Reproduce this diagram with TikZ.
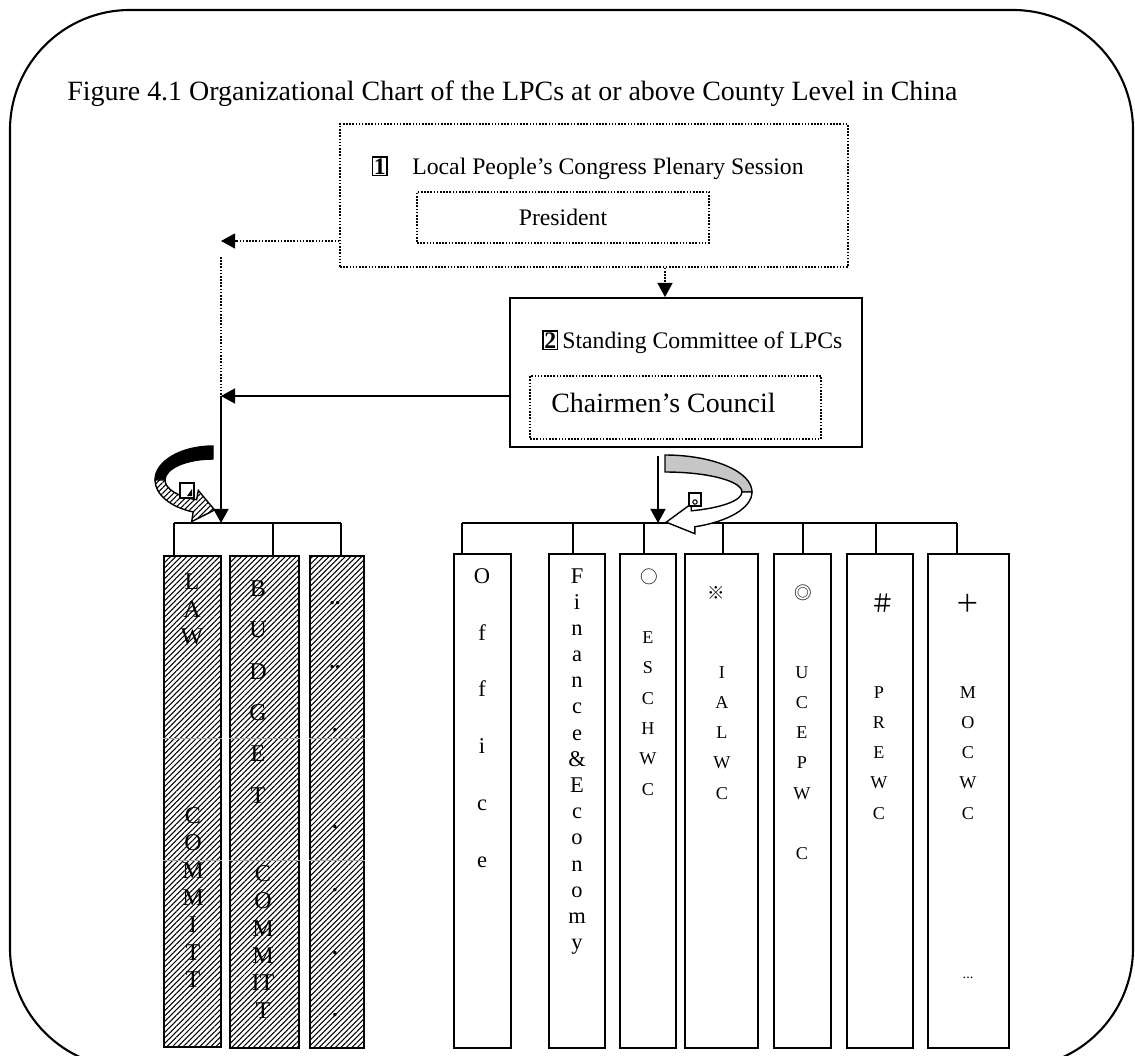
\documentclass[tikz,border=0pt]{standalone}
\usepackage{fontspec}
\setmainfont{Liberation Serif}
\newfontfamily\cjk{Noto Sans CJK SC}
\usetikzlibrary{arrows.meta,patterns.meta,calc}

\tikzset{
  dotbox/.style={draw, line width=0.9pt, dash pattern=on 0.9pt off 0.9pt},
  solidbox/.style={draw, line width=1.1pt},
  numbox/.style={draw, line width=1pt, inner sep=0.8pt, font=\bfseries\fontsize{13.5}{15}\selectfont},
  colbox/.style={draw, line width=1.1pt, anchor=north, inner sep=0pt},
  hatch/.style={pattern={Lines[angle=45,distance=2.2pt,line width=0.6pt]}},
  hatchcol/.style={colbox, hatch},
  link/.style={line width=1.1pt, -{Triangle[length=8pt,width=8.5pt]}},
  dotlink/.style={line width=0.9pt, dash pattern=on 0.9pt off 0.9pt, -{Triangle[length=8pt,width=8.5pt]}},
  letters/.style={anchor=north, align=center, inner sep=0pt},
  symb/.style={font=\cjk\fontsize{10}{12}\selectfont, inner sep=0pt},
}

\begin{document}
\begin{tikzpicture}[x=0.02cm,y=-0.02cm]
\useasboundingbox (0,0) rectangle (1135,1055);

% Outer frame
\draw[line width=1.2pt, rounded corners=2.4cm] (10,10) rectangle (1133,1068);

% Title
\node[anchor=base west, inner sep=0pt, font=\fontsize{15.9}{18}\selectfont] (title) at (67,100)
  {Figure 4.1 Organizational Chart of the LPCs at or above County Level in China};

% Plenary session
\node[dotbox, minimum width=10.16cm, minimum height=2.86cm] (plenary) at (594,195.5) {};
\node[anchor=base west, inner sep=0pt, font=\fontsize{13.5}{15}\selectfont] (plentext) at (412,174)
  {Local People’s Congress Plenary Session};
\node[numbox, anchor=base east] (one) at (388,174) {1};
\node[dotbox, minimum width=5.84cm, minimum height=1.02cm, font=\fontsize{13.5}{15}\selectfont] (president) at (563,217.5) {President};

% Standing committee
\node[solidbox, minimum width=7.04cm, minimum height=2.98cm] (standing) at (686,372.5) {};
\node[numbox, anchor=base west] (two) at (542,348) {2};
\node[anchor=base west, inner sep=0pt, font=\fontsize{13.5}{15}\selectfont] (stantext) at (562,348)
  {Standing Committee of LPCs};
\node[dotbox, minimum width=5.82cm, minimum height=1.26cm] (council) at (675.5,407.5) {};
\node[anchor=base west, inner sep=0pt, font=\fontsize{15.9}{18}\selectfont] (counciltext) at (551,412)
  {Chairmen’s Council};

% Links from the top
\coordinate (down) at (665,0);
\coordinate (lv) at (221,241);
\coordinate (junction) at (221,396);
\coordinate (lbar) at (221,523);
\coordinate (rbar) at (658,523);
\draw[dotlink] (plenary.south -| down) -- (standing.north -| down);
\draw[dotlink] (plenary.west |- lv) -- (lv);
\draw[line width=0.9pt, dash pattern=on 0.9pt off 0.9pt] ($(lv)+(0,16)$) -- (junction);
\draw[link] (standing.west |- junction) -- (junction);
\draw[link] (junction) -- (lbar);
\draw[link] ($(standing.south -| rbar)+(0,8)$) -- (rbar);

% Special committees (hatched)
\foreach \nm/\cx/\w in {law/192.5/1.14, budget/264.5/1.38, ldots/337/1.08}
  \node[hatchcol, minimum width=\w cm, minimum height=9.84cm] (\nm) at (\cx,555) {};
\foreach \nm in {law,budget,ldots}
  \foreach \yy in {738,860} {
    \path (0,\yy) coordinate (hy);
    \draw[gray!70, line width=0.3pt] (\nm.west |- hy) -- (\nm.east |- hy);
  }

% Working bodies
\foreach \nm/\cx/\w in {office/482.5/1.14, finance/577/1.12, eschwc/648/1.12, ialwc/721.5/1.46,
    ucepwc/802.5/1.14, prewc/880/1.32, mocwc/968.5/1.62}
  \node[colbox, minimum width=\w cm, minimum height=9.88cm] (\nm) at (\cx,553) {};

% Bars
\draw[line width=1.1pt] (174,523) -- (341,523);
\foreach \tx/\col in {174/law, 273/budget, 341/ldots} {
  \path (\tx,523) coordinate (tk);
  \draw[line width=1.1pt] (tk) -- (tk |- \col.north);
}
\draw[line width=1.1pt] (462,523) -- (957,523);
\foreach \tx/\col in {462/office, 573/finance, 644/eschwc, 723/ialwc, 803/ucepwc, 876/prewc, 957/mocwc} {
  \path (\tx,523) coordinate (tk);
  \draw[line width=1.1pt] (tk) -- (tk |- \col.north);
}

% U-turn arrows
\filldraw[line width=0.8pt] (213,446) arc[start angle=-90, end angle=-180, x radius=58, y radius=34]
  -- (165,480) arc[start angle=180, end angle=270, x radius=48, y radius=21] -- cycle;
\filldraw[line width=0.8pt, fill=white] (155,480) arc[start angle=180, end angle=110, x radius=58, y radius=34]
  -- (191.7,521.6) -- (214.6,510) -- (198.3,490.4) -- (196.6,499.7)
  arc[start angle=110, end angle=180, x radius=48, y radius=21] -- cycle;
\path[hatch] (155,480) arc[start angle=180, end angle=110, x radius=58, y radius=34]
  -- (191.7,521.6) -- (214.6,510) -- (198.3,490.4) -- (196.6,499.7)
  arc[start angle=110, end angle=180, x radius=48, y radius=21] -- cycle;
\draw[line width=0.8pt, fill=white] (180,483) rectangle (194,498);
\fill (187,496) -- (192,489) -- (192,496) -- cycle;

\filldraw[line width=0.8pt, fill=gray!45] (665,455) arc[start angle=-90, end angle=0, x radius=87, y radius=37]
  -- (742,492) arc[start angle=0, end angle=-90, x radius=77, y radius=20] -- cycle;
\filldraw[line width=0.8pt, fill=white] (752,492) arc[start angle=0, end angle=70, x radius=87, y radius=37]
  -- (694.9,533.7) -- (666.2,522.2) -- (691.1,503.9) -- (691.3,510.8)
  arc[start angle=70, end angle=0, x radius=77, y radius=20] -- cycle;
\draw[line width=0.8pt, fill=white] (689,493) rectangle (701,506);
\draw[line width=0.6pt] (695,502) circle (2.2);

% Column texts, left group
\node[letters, font=\fontsize{13.7}{15.9}\selectfont] (lawa) at (192,573) {L\\A\\W};
\node[letters, font=\fontsize{13.7}{15.6}\selectfont] (lawb) at (193,807) {C\\O\\M\\M\\I\\T\\T};
\node[letters, font=\fontsize{13.7}{23.6}\selectfont] (buda) at (258,580) {B\\U\\D\\G\\E\\T};
\node[letters, font=\fontsize{13.7}{15.6}\selectfont] (budb) at (263,865) {C\\O\\M\\M\\IT\\T};
\foreach \yy/\mk in {603/{..}, 667/{..}, 730/{.}, 827/{.}, 890/{.}, 953/{.}, 1015/{.}}
  \node[font=\bfseries\fontsize{12}{13}\selectfont, inner sep=0pt] (dot\yy) at (335,\yy) {\mk};

% Column texts, right group
\node[letters, font=\fontsize{12.8}{32.3}\selectfont] (officetxt) at (482,568) {O\\f\\f\\i\\c\\e};
\node[letters, font=\fontsize{12.8}{14.9}\selectfont] (financetxt) at (577,568)
  {F\\i\\n\\a\\n\\c\\e\\\&\\E\\c\\o\\n\\o\\m\\y};
\node[symb] (m1) at (649,577) {○};
\node[letters, font=\fontsize{10.3}{17.3}\selectfont] (eschtxt) at (648,631) {E\\S\\C\\H\\W\\C};
\node[symb] (m2) at (716,593) {※};
\node[letters, font=\fontsize{10.3}{17.2}\selectfont] (ialtxt) at (722,666) {I\\A\\L\\W\\C};
\node[symb] (m3) at (803,593) {◎};
\node[letters, font=\fontsize{10.3}{17.2}\selectfont] (uceptxt) at (802,666) {U\\C\\E\\P\\W\\[17.2pt]C};
\node[symb, font=\cjk\fontsize{14}{16}\selectfont] (m4) at (883,603) {＃};
\node[letters, font=\fontsize{10.3}{17.2}\selectfont] (prewtxt) at (879,686) {P\\R\\E\\W\\C};
\node[symb, font=\cjk\fontsize{14}{16}\selectfont] (m5) at (968,603) {＋};
\node[letters, font=\fontsize{10.3}{17.2}\selectfont] (mocwtxt) at (968,686) {M\\O\\C\\W\\C};
\node[font=\fontsize{8}{9}\selectfont, inner sep=0pt] (more) at (968,978) {...};

\end{tikzpicture}
\end{document}
